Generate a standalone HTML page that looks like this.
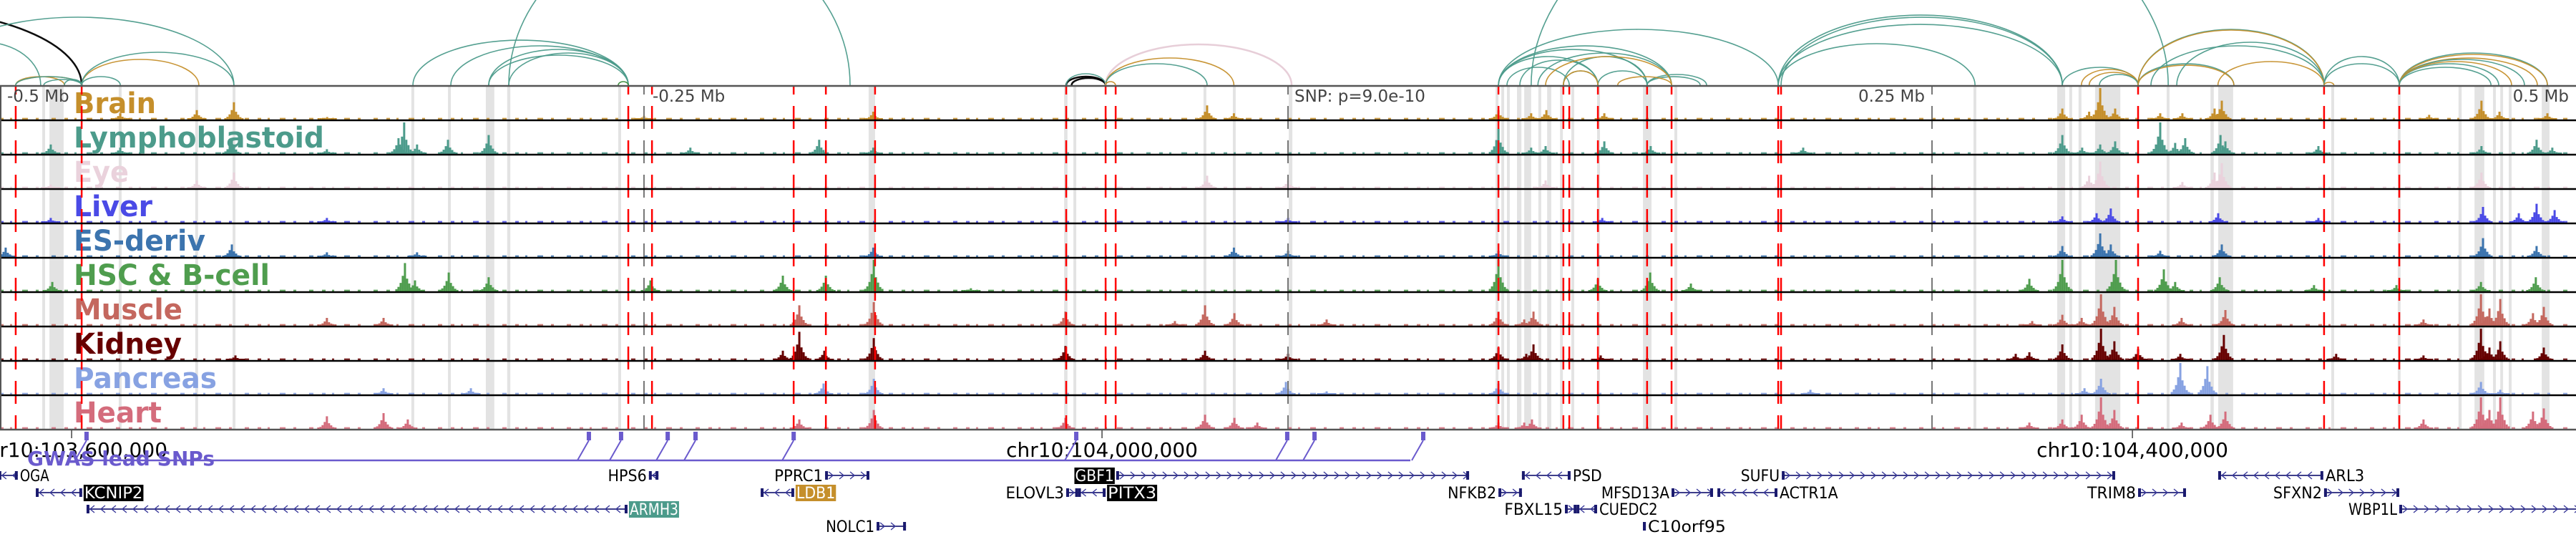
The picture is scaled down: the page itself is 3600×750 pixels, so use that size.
<!DOCTYPE html>
<html><head><meta charset="utf-8">
<style>
html,body{margin:0;padding:0;background:#fff;}
svg{display:block;}
text{font-family:"DejaVu Sans","Liberation Sans",sans-serif;}
</style></head>
<body>
<svg id="fig" xmlns="http://www.w3.org/2000/svg" width="3600" height="750" viewBox="0 0 3600 750"></svg>
<script>
// ===== data (positions in kb from window start chr10:103,572,222; 1 Mb window) =====
const tissueNames = ["Brain","Lymphoblastoid","Eye","Liver","ES-deriv","HSC & B-cell","Muscle","Kidney","Pancreas","Heart"];
const brainPeaks = [[46.7,0.2],[76.4,0.3],[90.8,0.55],[339,0.25],[468.6,0.45],[479,0.2],[581.7,0.3],[600.3,0.3],[594.4,0.2],[622.8,0.2],[800.6,0.35],[815.3,1.0],[821.1,0.35],[811,0.25],[838.6,0.2],[847.2,0.2],[862.5,0.6],[859.7,0.35],[963.3,0.6],[970.3,0.25],[988.9,0.2],[943,0.15],[250,0.12],[127,0.08]];
const lymphoPeaks = [[19.7,0.3],[46.7,0.2],[90,0.5],[156.9,1.0],[161.9,0.3],[154.7,0.5],[173.9,0.45],[189.7,0.6],[126.9,0.15],[339,0.2],[581.7,0.8],[594.4,0.2],[600,0.25],[622.8,0.4],[640.8,0.25],[700,0.2],[800.6,0.6],[815.3,0.3],[821.1,0.4],[808.3,0.2],[838.6,1.0],[844.4,0.35],[848.3,0.5],[862,0.6],[863.9,0.4],[900,0.25],[984.7,0.45],[990.8,0.2],[963.3,0.25],[268,0.2],[318,0.45]];
const eyePeaks = [[90.8,0.5],[76.4,0.25],[468.6,0.4],[500,0.25],[600,0.25],[815.3,0.85],[811,0.4],[862.5,0.8],[859.7,0.5],[963.3,0.5],[847.2,0.2],[19.7,0.12]];
const liverPeaks = [[19.7,0.15],[126.9,0.15],[813.9,0.3],[819.4,0.45],[861.1,0.3],[800.6,0.2],[963.9,0.5],[977.8,0.3],[984.7,0.6],[991.7,0.4],[500,0.15],[900,0.15],[622,0.15]];
const esPeaks = [[2.2,0.3],[90,0.4],[126.9,0.15],[161.9,0.15],[339,0.3],[479,0.3],[500,0.2],[581.7,0.2],[800.6,0.35],[815.3,0.75],[819.4,0.4],[862.5,0.4],[963.9,0.6],[984.7,0.35],[838.6,0.2]];
const hscPeaks = [[20.3,0.3],[157.2,0.9],[161.1,0.35],[174.2,0.6],[189.7,0.45],[252.5,0.35],[303.9,0.5],[320.6,0.5],[339.2,1.0],[376.9,0.1],[581.7,1.0],[620.3,0.4],[640.6,0.6],[656.4,0.25],[787.8,0.4],[800.6,1.0],[821.4,1.0],[840,0.7],[844.4,0.3],[861.7,0.45],[898.3,0.2],[930.3,0.2],[963.1,0.3],[984.4,0.45]];
const musclePeaks = [[126.9,0.25],[148.9,0.25],[310.3,0.65],[339.2,0.75],[413.6,0.45],[456.1,0.15],[467.8,0.65],[479.2,0.4],[515,0.2],[581.7,0.45],[595.3,0.45],[591.7,0.2],[788.9,0.15],[800.6,0.35],[808.1,0.25],[815.6,1.0],[820.8,0.6],[846.9,0.25],[863.9,0.5],[963.1,1.0],[966.4,0.55],[970.6,0.85],[983.3,0.4],[987.5,0.6],[940.8,0.2]];
const kidneyPeaks = [[91.4,0.15],[303.9,0.3],[310.3,0.9],[320,0.3],[339.2,0.7],[413.6,0.45],[467.8,0.3],[500,0.2],[581.7,0.4],[595.3,0.5],[592.5,0.2],[621.4,0.15],[782.5,0.2],[787.8,0.25],[800.6,0.5],[815.6,1.0],[820.8,0.6],[830,0.35],[846.4,0.2],[863.3,0.8],[906.9,0.2],[963.1,1.0],[966.4,0.4],[970.6,0.6],[987.5,0.4],[940.8,0.15]];
const pancreasPeaks = [[148.9,0.2],[182.8,0.2],[319.7,0.35],[339.2,0.5],[499.2,0.4],[515,0.1],[581.7,0.35],[702.8,0.15],[809.2,0.2],[815.6,0.5],[846.4,1.0],[856.9,0.9],[963.1,0.4],[970.6,0.15]];
const heartPeaks = [[126.9,0.4],[148.9,0.5],[158.3,0.3],[310.3,0.3],[339.2,0.6],[413.6,0.35],[467.8,0.45],[479.2,0.35],[488.1,0.2],[581.7,0.2],[594.7,0.3],[591.7,0.2],[787.8,0.2],[800.6,0.3],[808.1,0.45],[815.6,1.0],[820.8,0.6],[846.9,0.2],[858.1,0.45],[863.9,0.55],[940.8,0.3],[963.1,1.0],[966.4,0.6],[970.6,1.0],[983.3,0.55],[987.5,0.65]];
const tissuePeaks = [brainPeaks,lymphoPeaks,eyePeaks,liverPeaks,esPeaks,hscPeaks,musclePeaks,kidneyPeaks,pancreasPeaks,heartPeaks];

const redLines = [6.1,31.7,243.9,253.1,308.1,320.6,339.7,413.9,429.2,433.1,581.7,606.9,609.2,620.3,639.4,648.9,690.3,691.4,830,902.2,931.4];
const grayBands = [[16.4,17.5],[19.2,24.7],[46.1,47.2],[75.8,76.9],[90.3,91.4],[159.7,160.8],[173.9,175],[188.6,191.9],[196.9,198.1],[240,241.1],[337.2,339.7],[413.1,414.4],[416.7,417.8],[467.2,468.3],[478.6,479.7],[500.3,501.7],[580.6,581.7],[582.8,583.9],[585,586.1],[588.9,590.6],[591.7,594.4],[597.2,598.3],[600.6,602.2],[605.6,606.7],[610,611.1],[620,621.1],[637.8,641.1],[650,651.1],[766.1,767.2],[798.6,801.7],[803.3,804.4],[806.9,808],[813.3,823.1],[841.1,842.2],[858.1,859.4],[861.1,866.9],[905,906.1],[930.8,931.9],[954.4,955.6],[960.6,964.4],[967.8,968.9],[970.6,971.7],[973.9,975],[986.7,989.7]];
const gwasSnps = [33.6,228.6,241.1,259.2,270,308.1,417.8,499.7,510.3,552.5];
const arcStarts = [-111,-30.3,-27.8,6.1,6.1,6.1,17,25,31.7,31.7,31.7,160.3,175,189.7,197.5,189.7,197.5,240,413.9,416,413.9,429.2,429.2,429.2,429.2,581.7,581.7,581.7,585,590,597,606.9,606.9,620.3,639.4,639.4,600,606.9,628,581.7,594.4,690.3,690.3,691.4,690.3,800.6,808,811,815,830,830,830,830,845,835,861,902.2,902.2,902.2,931.4,931.4,931.4,931.4,931.4,931.4,931.4];
const arcEnds   = [31.7,90.8,15.8,31.7,25,31.7,31.7,31.7,77.2,46.7,90.8,243.9,243.9,243.9,243.9,243.9,330,243.9,429.2,429.2,429.2,501.4,479,468.6,433,620.3,639.4,648.9,609.2,620.3,648.9,639.4,620.3,639.4,662.5,660,648.9,620.3,648.9,690.3,841.7,800.6,800.6,800.6,766.7,830,830,830,830,867.2,867.2,902.2,902.2,902.2,902.2,902.2,931.4,931.4,906,988.9,988.9,985,980,970,975,967];
const arcScores = [106,95,60,12,12,12,8,8,36,12,46,63,55,50,45,42,220,5,12,10,16,57,38,30,5,40,50,55,25,35,45,40,20,20,15,12,40,20,12,78,300,85,98,95,58,25,22,18,15,30,28,78,77,60,55,33,40,30,4,45,43,38,36,30,33,25];
const arcTypes  = ["K","T","T","G","G","T","T","T","G","T","T","T","T","T","T","T","T","N","K","K","T","P","G","T","G","T","T","T","T","T","T","T","T","T","T","T","G","G","G","T","T","T","T","T","T","T","G","G","T","T","G","T","G","T","T","G","T","T","G","T","G","G","T","T","G","T"];

const geneNames  = ["OGA","KCNIP2","ARMH3","HPS6","PPRC1","LDB1","NOLC1","GBF1","ELOVL3","PITX3","NFKB2","PSD","FBXL15","CUEDC2","MFSD13A","C10orf95","SUFU","ACTR1A","TRIM8","ARL3","SFXN2","WBP1L"];
const geneStarts = [-0.6,13.9,33.6,251.9,320.3,295.3,340.3,433.3,413.9,418.5,581.7,590.8,607.5,612,648.9,637.8,691.7,666.7,830,861.1,902.2,931.4];
const geneEnds   = [6.9,31.9,243.6,255.6,337.5,308.3,351.7,570.3,418.5,429.2,590.8,609.7,612,620,665,638.9,821.1,690,848.6,901.9,931.4,1005];
const geneRows   = [0,1,2,0,0,1,3,0,1,1,1,0,2,2,1,3,0,1,1,0,1,2];
const geneStrand = ["-","-","-","-","+","-","+","+","+","-","+","-","+","-","+","+","+","-","+","-","+","+"];
const geneLabelSide = ["r","r","r","l","l","r","l","l","l","r","l","r","l","r","l","r","l","r","l","r","l","l"];
const geneHighlight = ["","black","teal","","","gold","","black","","black","","","","","","","","","","","",""];
const axisTickLabels = ["chr10:103,600,000","chr10:104,000,000","chr10:104,400,000"];
const axisTickKb = [27.8,427.8,827.8];
const offsetLabels = ["-0.5 Mb","-0.25 Mb","0.25 Mb","0.5 Mb"];
const offsetKb = [0,250,750,1000];

// ===== scales & layout =====
const PXKB = 3.6;
const xOf = kb => kb*PXKB;
const TRACK_TOP = 120, TRACK_H = 48, NT = 10;
const colors = ["#c58f2b","#4c9b8b","#ead2dc","#4a4ae6","#3c74ae","#4f9d4e","#c4675e","#660000","#87a2e2","#d46c7c"];
const arcColor = {T:"#4c9b8b",G:"#c58f2b",P:"#e6cbd6",K:"#000000",N:"#3a8a3a"};
const NS = "http://www.w3.org/2000/svg";
const svg = document.getElementById("fig");
function mk(tag, attrs, parent){
  const e = document.createElementNS(NS, tag);
  for (const k in attrs) e.setAttribute(k, attrs[k]);
  (parent||svg).appendChild(e);
  return e;
}

// ----- arcs -----
const gArcs = mk("g",{});


const clip = mk("clipPath",{id:"arcclip"});
mk("rect",{x:0,y:0,width:3600,height:119},clip);
gArcs.setAttribute("clip-path","url(#arcclip)");
for (let i=0;i<arcStarts.length;i++){
  const x1=xOf(arcStarts[i]), x2=xOf(arcEnds[i]), h=arcScores[i], base=119;
  const rx=(x2-x1)/2;
  const p=mk("path",{d:`M${x1},${base} A${rx},${h} 0 0 1 ${x2},${base}`,fill:"none",stroke:arcColor[arcTypes[i]],"stroke-width":arcTypes[i]==="K"?2.5:(arcTypes[i]==="P"?2.5:1.6),opacity:0.95},gArcs);
  
  
}

// ----- track bands (gray highlights) -----
const gBands = mk("g",{});


grayBands.forEach(b=>{
  const r=mk("rect",{x:xOf(b[0]),y:TRACK_TOP,width:Math.max(3,xOf(b[1])-xOf(b[0])),height:TRACK_H*NT,fill:"#e3e3e3"},gBands);
  
  
});

// ----- signal tracks -----
const shape=[[0,1],[-3,0.55],[3,0.45],[-6,0.3],[6,0.28],[-9,0.16],[9,0.14],[-12,0.08],[12,0.08]];
for (let t=0;t<NT;t++){
  const top=TRACK_TOP+t*TRACK_H, bot=top+TRACK_H-1;
  const g=mk("g",{});
  
  
  // sparse baseline noise
  mk("line",{x1:0,y1:bot-1.2,x2:3600,y2:bot-1.2,stroke:colors[t],"stroke-width":2.4,"stroke-dasharray":"5 9 3 14 8 11 4 18 6 12","opacity":0.85},g);
  tissuePeaks[t].forEach(pk=>{
    const x=xOf(pk[0]), h=pk[1]*44;
    shape.forEach(q=>{
      const hh=Math.max(2,h*q[1]);
      const r=mk("rect",{x:x+q[0]-1.5,y:bot-hh,width:3,height:hh,fill:colors[t]},g);
      
      
    });
  });
}

// ----- offset tick lines (gray dashed) -----
[250,500,750].forEach(kb=>{
  const l=mk("line",{x1:xOf(kb),y1:TRACK_TOP,x2:xOf(kb),y2:TRACK_TOP+TRACK_H*NT,stroke:"#777","stroke-width":2,"stroke-dasharray":"32 16","stroke-dashoffset":20});
  
  
});

// ----- track labels -----
const labelWidths=[115,350,77,110,184,274,152,151,200,123];
for (let t=0;t<NT;t++){
  const tx=mk("text",{x:103,y:TRACK_TOP+t*TRACK_H+38,fill:colors[t],"font-size":40,"font-weight":"bold",textLength:labelWidths[t],lengthAdjust:"spacingAndGlyphs"});
  tx.textContent=tissueNames[t];
  
  
}

// ----- red lines -----
const gRed=mk("g",{});


redLines.forEach(kb=>{
  const l=mk("line",{x1:xOf(kb),y1:TRACK_TOP,x2:xOf(kb),y2:TRACK_TOP+TRACK_H*NT,stroke:"#ff0000","stroke-width":2.5,"stroke-dasharray":"32 16","stroke-dashoffset":20},gRed);
  
  
});

// ----- track borders -----
for (let t=0;t<=NT;t++){
  const y=TRACK_TOP+t*TRACK_H;
  const l=mk("line",{x1:0,y1:y,x2:3600,y2:y,stroke:t===0||t===NT?"#555":"#000","stroke-width":2.5});
  
  
}
const lb=mk("line",{x1:1,y1:TRACK_TOP,x2:1,y2:TRACK_TOP+TRACK_H*NT,stroke:"#555","stroke-width":2});



// ----- offset labels -----
offsetLabels.forEach((s,i)=>{
  const x=xOf(offsetKb[i]);
  let anchor="start", xx=x+10;
  if (i===1){xx=x+12;}
  if (i>=2){anchor="end"; xx=x-10;}
  const tx=mk("text",{x:xx,y:142,fill:"#444","font-size":23,"text-anchor":anchor});
  tx.textContent=s;
  
  
});
const snpL=mk("text",{x:1809,y:142,fill:"#444","font-size":23});
snpL.textContent="SNP: p=9.0e-10";



// ----- genomic axis -----
axisTickLabels.forEach((s,i)=>{
  const x=xOf(axisTickKb[i]);
  const tk=mk("line",{x1:x,y1:601,x2:x,y2:612,stroke:"#444","stroke-width":1.5});
  
  
  const tx=mk("text",{x:x,y:638,fill:"#000","font-size":28,"text-anchor":"middle"});
  tx.textContent=s;
  
  
});

// ----- GWAS -----
const gw=mk("text",{x:38,y:650,fill:"#6a5acd","font-size":28,"font-weight":"bold",textLength:262,lengthAdjust:"spacingAndGlyphs"});
gw.textContent="GWAS lead SNPs";


const gwl=mk("line",{x1:xOf(gwasSnps[0])-12,y1:643,x2:xOf(gwasSnps[gwasSnps.length-1])-18,y2:643,stroke:"#6a5acd","stroke-width":2.5});


gwasSnps.forEach(kb=>{
  const x=xOf(kb);
  const r=mk("rect",{x:x-3,y:603,width:6,height:12,fill:"#6a5acd"});
  
  
  const l=mk("line",{x1:x,y1:615,x2:x-16,y2:643,stroke:"#6a5acd","stroke-width":2});
  
  
});

// ----- genes -----
const rowY=[664,688,711,735];
const hlColor={black:"#000",teal:"#4c9b8b",gold:"#c58f2b"};
function textW(s){return s.length*13.6;}
geneNames.forEach((name,i)=>{
  const g=mk("g",{});
  
  
  const x1=xOf(geneStarts[i]), x2=xOf(geneEnds[i]), y=rowY[geneRows[i]];
  mk("line",{x1:x1,y1:y,x2:x2,y2:y,stroke:"#22227a","stroke-width":1.8},g);
  for (let x=x1+8;x<x2-4;x+=15){
    const d=geneStrand[i]==="+"?`M${x-3},${y-5} L${x+3},${y} L${x-3},${y+5}`:`M${x+3},${y-5} L${x-3},${y} L${x+3},${y+5}`;
    mk("path",{d:d,fill:"none",stroke:"#3a3a9a","stroke-width":1.4},g);
  }
  mk("rect",{x:x1,y:y-6,width:4,height:12,fill:"#1a1a6e"},g);
  mk("rect",{x:x2-4,y:y-6,width:4,height:12,fill:"#1a1a6e"},g);
  const w=textW(name);
  const lx=geneLabelSide[i]==="l"?x1-3-w:x2+3;
  if (geneHighlight[i]){
    mk("rect",{x:lx-1,y:y-11,width:w+2,height:23,fill:hlColor[geneHighlight[i]]},g);
  }
  const tx=mk("text",{x:lx,y:y+8,"font-size":22,fill:geneHighlight[i]?"#fff":"#000",textLength:w,lengthAdjust:"spacingAndGlyphs"},g);
  tx.textContent=name;
  
  
});
</script>
</body></html>
